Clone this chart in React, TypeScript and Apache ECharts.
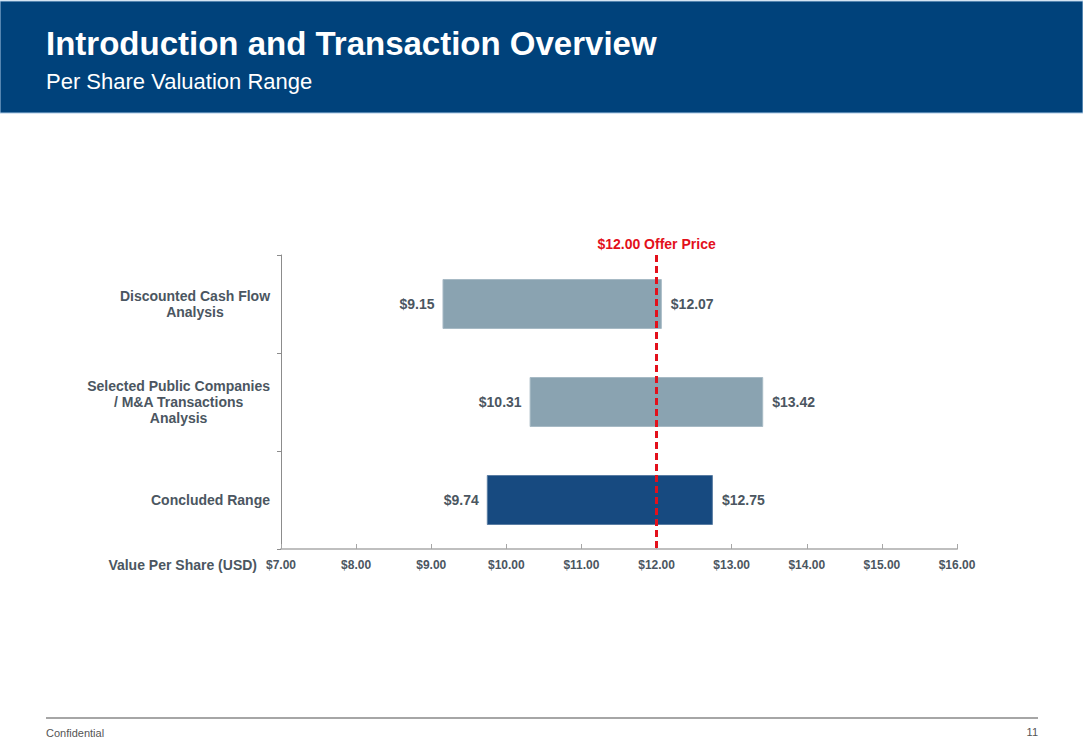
import React, { useEffect, useRef } from "react";
import * as echarts from "echarts";

const categories = [
  "Discounted Cash Flow\nAnalysis",
  "Selected Public Companies\n/ M&A Transactions\nAnalysis",
  "Concluded Range",
];
const lowValues = [9.15, 10.31, 9.74];
const highValues = [12.07, 13.42, 12.75];
const barColors = ["#8AA3B1", "#8AA3B1", "#174A80"];
const barBorders = ["#A7BAC5", "#A7BAC5", "#5A7DA3"];
const offerPrice = 12.0;
const axisMin = 7;
const axisMax = 16;
const axisInterval = 1;

const FONT = "'Liberation Sans', Arial, Helvetica, sans-serif";
const LABEL_COLOR = "#4B5661";
const RED = "#E3101B";

export default function App() {
  const ref = useRef<HTMLDivElement>(null);

  useEffect(() => {
    document.body.style.margin = "0";
    const chart = echarts.init(ref.current!, null, { renderer: "svg" });

    const option: any = {
      animation: false,
      backgroundColor: "#FFFFFF",
      textStyle: { fontFamily: FONT },
      grid: { left: 281, right: 126, top: 255, bottom: 201, containLabel: false },
      xAxis: {
        type: "value",
        min: axisMin,
        max: axisMax,
        interval: axisInterval,
        splitLine: { show: false },
        axisLine: { show: true, lineStyle: { color: "#BFBFBF", width: 2 } },
        axisTick: { show: true, inside: true, length: 5, lineStyle: { color: "#A6A6A6", width: 1 } },
        axisLabel: {
          formatter: (v: number) => "$" + v.toFixed(2),
          color: LABEL_COLOR,
          fontWeight: "bold",
          fontSize: 12,
          fontFamily: FONT,
          margin: 10,
        },
      },
      yAxis: {
        type: "category",
        inverse: true,
        data: categories,
        axisLine: { show: true, lineStyle: { color: "#8C8C8C", width: 1 } },
        axisTick: { show: true, length: 4, lineStyle: { color: "#8C8C8C" } },
        axisLabel: {
          color: LABEL_COLOR,
          fontWeight: "bold",
          fontSize: 14,
          fontFamily: FONT,
          margin: 11,
          align: "right",
          lineHeight: 16,
          formatter: (v: string) =>
            v
              .split("\n")
              .map((l) => "{c|" + l + "}")
              .join("\n"),
          rich: {
            c: {
              align: "center",
              color: LABEL_COLOR,
              fontWeight: "bold",
              fontSize: 14,
              fontFamily: FONT,
              lineHeight: 16,
            },
          },
        },
      },
      series: [
        {
          type: "bar",
          stack: "range",
          barWidth: 50,
          silent: true,
          itemStyle: { color: "transparent" },
          label: {
            show: true,
            position: "insideRight",
            distance: 8,
            formatter: (p: any) => "$" + lowValues[p.dataIndex].toFixed(2),
            color: LABEL_COLOR,
            fontWeight: "bold",
            fontSize: 14,
            fontFamily: FONT,
          },
          data: lowValues,
        },
        {
          type: "bar",
          stack: "range",
          barWidth: 50,
          silent: true,
          data: highValues.map((h, i) => ({
            value: h - lowValues[i],
            itemStyle: { color: barColors[i], borderColor: barBorders[i], borderWidth: 1 },
          })),
          label: {
            show: true,
            position: "right",
            distance: 9,
            formatter: (p: any) => "$" + highValues[p.dataIndex].toFixed(2),
            color: LABEL_COLOR,
            fontWeight: "bold",
            fontSize: 14,
            fontFamily: FONT,
          },
          markLine: {
            silent: true,
            symbol: "none",
            lineStyle: { color: RED, type: [7, 4], width: 3 },
            label: {
              show: true,
              position: "start",
              distance: 4,
              formatter: "$" + offerPrice.toFixed(2) + " Offer Price",
              color: RED,
              fontWeight: "bold",
              fontSize: 14,
              fontFamily: FONT,
            },
            data: [{ xAxis: offerPrice }],
          },
          z: 3,
        },
      ],
      graphic: [
        {
          type: "rect",
          shape: { x: 0, y: 1, width: 1083, height: 112 },
          style: { fill: "#00427B", stroke: "#A9C8E6", lineWidth: 1 },
          z: 0,
        },
        {
          type: "text",
          x: 46,
          y: 43,
          style: {
            text: "Introduction and Transaction Overview",
            fill: "#FFFFFF",
            font: "bold 33px " + FONT,
            verticalAlign: "middle",
          },
        },
        {
          type: "text",
          x: 46,
          y: 81,
          style: {
            text: "Per Share Valuation Range",
            fill: "#FFFFFF",
            font: "22px " + FONT,
            verticalAlign: "middle",
          },
        },
        {
          type: "text",
          x: 257,
          y: 565,
          style: {
            text: "Value Per Share (USD)",
            fill: LABEL_COLOR,
            font: "bold 14px " + FONT,
            align: "right",
            verticalAlign: "middle",
          },
        },
        {
          type: "line",
          shape: { x1: 46, y1: 718, x2: 1038, y2: 718 },
          style: { stroke: "#A6A6A6", lineWidth: 2 },
        },
        {
          type: "text",
          x: 46,
          y: 733,
          style: {
            text: "Confidential",
            fill: "#555555",
            font: "11px " + FONT,
            verticalAlign: "middle",
          },
        },
        {
          type: "text",
          x: 1038,
          y: 732,
          style: {
            text: "11",
            fill: "#555555",
            font: "11px " + FONT,
            align: "right",
            verticalAlign: "middle",
          },
        },
      ],
    };

    chart.setOption(option);
    return () => chart.dispose();
  }, []);

  return <div ref={ref} style={{ width: 1083, height: 750 }} />;
}
